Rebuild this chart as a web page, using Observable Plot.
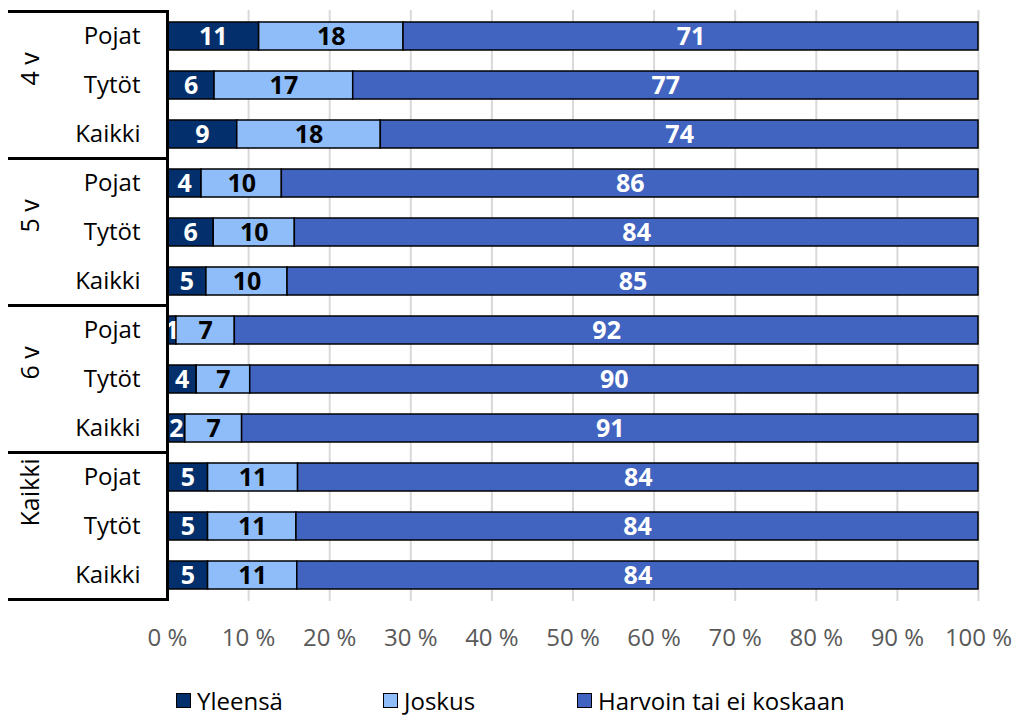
<!DOCTYPE html>
<html><head><meta charset="utf-8">
<script src="https://cdn.jsdelivr.net/npm/d3@7"></script>
<script src="https://cdn.jsdelivr.net/npm/@observablehq/plot@0.6"></script>
<style>
body{margin:0;background:#fff;font-family:"Open Sans",sans-serif;}
#legend{position:relative;height:49px;font-size:24px;color:#000;}
#legend .item{position:absolute;top:16px;display:flex;align-items:center;white-space:nowrap;}
#legend .sw{width:15px;height:15px;border:1px solid #000;margin-right:6px;box-sizing:border-box;}
</style></head><body>
<div id="chart"></div><div id="legend"></div>
<script>
const groups = ["4 v", "5 v", "6 v", "Kaikki"];
const subgroups = ["Pojat", "Tytöt", "Kaikki"];
const categories = ["Yleensä", "Joskus", "Harvoin tai ei koskaan"];
const colors = ["#03306c", "#8fbdfa", "#4164c0"];
// rows in order: 4v P/T/K, 5v P/T/K, 6v P/T/K, Kaikki P/T/K
const yleensa = [11.3, 5.8, 8.6, 4.2, 5.7, 4.8, 1.1, 3.6, 2.2, 5.0, 5.0, 5.0];
const joskus  = [17.8, 17.1, 17.7, 9.9, 10.0, 10.0, 7.2, 6.6, 7.0, 11.1, 10.9, 11.0];
const harvoin = [70.9, 77.1, 73.7, 85.9, 84.3, 85.2, 91.7, 89.8, 90.8, 83.9, 84.1, 84.0];
const xTicks = [0, 10, 20, 30, 40, 50, 60, 70, 80, 90, 100];

const series = [yleensa, joskus, harvoin];
const rows = groups.flatMap(g => subgroups.map(s => ({key: g + "|" + s, group: g, sub: s})));
const keys = rows.map(r => r.key);
const data = rows.flatMap((r, i) => categories.map((c, j) => ({...r, cat: c, value: series[j][i]})));
const groupRows = groups.map(g => {
  const rs = rows.filter(r => r.group === g);
  return {group: g, first: rs[0].key, mid: rs[Math.floor(rs.length / 2)].key, last: rs[rs.length - 1].key};
});

const font = "'Open Sans', sans-serif";

function leftStructure(index, scales, values, dims) {
  const y = scales.y;
  const bw = typeof y.bandwidth === "function" ? y.bandwidth() : scales.scales.y.bandwidth;
  const step = y(keys[1]) - y(keys[0]);
  const x2 = dims.marginLeft, x1 = dims.marginLeft - 159;
  const ys = groupRows.map(g => y(g.first) + bw / 2 - step / 2);
  ys.push(y(groupRows[groupRows.length - 1].last) + bw / 2 + step / 2);
  const g = d3.create("svg:g");
  g.selectAll("line").data(ys).join("line")
    .attr("x1", x1).attr("x2", x2).attr("y1", d => d).attr("y2", d => d)
    .attr("stroke", "black").attr("stroke-width", 3);
  return g.node();
}

const plot = Plot.plot({
  width: 1019, height: 668,
  marginLeft: 167, marginRight: 41, marginTop: 10, marginBottom: 67,
  style: {fontFamily: font, fontSize: "24px", background: "white", color: "#595959"},
  x: {domain: [0, 100], ticks: xTicks, tickFormat: d => d + " %", tickSize: 0, tickPadding: 27, label: null},
  y: {domain: keys, paddingInner: 0.43, paddingOuter: 0.215, axis: null},
  color: {domain: categories, range: colors},
  marks: [
    Plot.gridX(xTicks.slice(1), {stroke: "#d9d9d9", strokeOpacity: 1, strokeWidth: 2}),
    Plot.barX(data, Plot.stackX({x: "value", y: "key", fill: "cat", order: categories, stroke: "black", strokeWidth: 1.5})),
    Plot.text(data, Plot.stackX({x: "value", y: "key", z: "cat", order: categories,
      text: d => d.cat === "Joskus" ? "" : String(Math.round(d.value)),
      fill: "white", fontWeight: "bold", fontSize: 25})),
    Plot.text(data, Plot.stackX({x: "value", y: "key", z: "cat", order: categories,
      text: d => d.cat === "Joskus" ? String(Math.round(d.value)) : "",
      fill: "black", fontWeight: "bold", fontSize: 25})),
    Plot.ruleX([0], {stroke: "black", strokeWidth: 3}),
    Plot.text(rows, {y: "key", text: "sub", frameAnchor: "left", textAnchor: "end", dx: -27, fill: "black", fontSize: 24}),
    Plot.text(groupRows, {y: "mid", text: "group", frameAnchor: "left", rotate: -90, dx: -137, fill: "black", fontSize: 25}),
    leftStructure
  ]
});
document.getElementById("chart").appendChild(plot);

const legend = document.getElementById("legend");
const legendLeft = [176, 383, 577];
categories.forEach((c, i) => {
  const it = document.createElement("div");
  it.className = "item";
  it.style.left = legendLeft[i] + "px";
  const sw = document.createElement("span");
  sw.className = "sw";
  sw.style.background = colors[i];
  const tx = document.createElement("span");
  tx.textContent = c;
  it.appendChild(sw); it.appendChild(tx);
  legend.appendChild(it);
});
</script>
</body></html>
